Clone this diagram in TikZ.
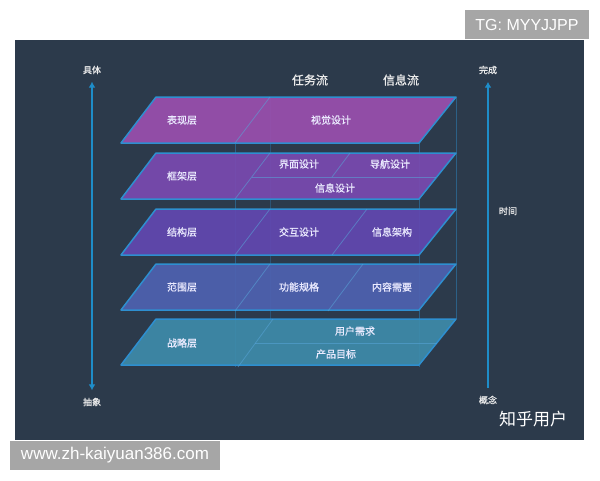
\documentclass[tikz,border=0pt]{standalone}
\usepackage{fontspec}
\setmainfont{Liberation Sans}
\newfontfamily\cjk{Noto Sans CJK SC}
\newfontfamily\cjkb[FakeBold=0.8]{Noto Sans CJK SC}
\usepackage{tikz}
\usetikzlibrary{positioning, arrows.meta}
\definecolor{bgdark}{HTML}{2C3A4B}
\definecolor{edgeblue}{HTML}{2E8FD0}
\definecolor{axisblue}{HTML}{1E8DC9}
\definecolor{layA}{HTML}{9A4FAE}
\definecolor{layB}{HTML}{7A4AB0}
\definecolor{layC}{HTML}{6248B0}
\definecolor{layD}{HTML}{4E62B0}
\definecolor{layE}{HTML}{3E8BAA}
\definecolor{markgray}{HTML}{A6A6A6}
\tikzset{layer/.style={draw=edgeblue, line width=1.5pt, line join=round}}
\tikzset{divider/.style={draw=edgeblue!80!white, line width=0.8pt, opacity=0.55}}
\tikzset{pillar/.style={draw=edgeblue, line width=0.8pt}}
\tikzset{layername/.style={text=white!92!blue, font=\cjkb\fontsize{10}{12}\selectfont}}
\tikzset{flowhead/.style={text=white!85!gray, font=\cjkb\fontsize{12}{14}\selectfont}}
\tikzset{axislabel/.style={text=white!85!gray, font=\cjkb\fontsize{9}{11}\selectfont}}
\tikzset{axis/.style={draw=axisblue, line width=1.6pt, shorten <=4pt, shorten >=4pt}}
\tikzset{stamp/.style={fill=markgray, text=white, inner sep=0pt, minimum height=29pt}}

\begin{document}
\begin{tikzpicture}[
	x=1pt,
	y=-1pt,
	>={Latex[length=6pt, width=7pt]},
	]
	\fill[white] (0,0) rectangle (600,480);
	\useasboundingbox (0,0) rectangle (600,480);
	\fill[bgdark] (15,40) rectangle (584,440);

	\foreach \x/\a/\b/\o in {235/143/367/0.45, 270/97/319/0.3, 419/143/367/0.45, 456/97/319/0.45}
		\draw[pillar, opacity=\o] (\x,\a) -- (\x,\b);

	\foreach \t/\c in {97/layA, 153/layB, 209/layC, 264/layD, 319/layE}
		\filldraw[layer, fill=\c, fill opacity=0.92] (121,\t+46) -- (419,\t+46) -- (456,\t) -- (156,\t) -- cycle;

	\draw[divider] (235,143) -- (270,97);
	\draw[divider] (235,199) -- (270,153);
	\draw[divider] (252,177) -- (436,177);
	\draw[divider] (332,177) -- (350,153);
	\draw[divider] (235,255) -- (270,209);
	\draw[divider] (332,255) -- (367,209);
	\draw[divider] (235,311) -- (270,264);
	\draw[divider] (328,311) -- (363,264);
	\draw[divider] (238,367) -- (273,319);
	\draw[divider] (255,343) -- (437,343);

	\node [layername]    (L1)   at (182,120)  {表现层};
	\node [layername]    (vis)  at (331,120)  {视觉设计};
	\node [layername]    (L2)   at (182,176)  {框架层};
	\node [layername]    (ui)   at (299,164)  {界面设计};
	\node [layername]    (nav)  at (390,164)  {导航设计};
	\node [layername]    (info) at (335,188)  {信息设计};
	\node [layername]    (L3)   at (182,232)  {结构层};
	\node [layername]    (ixd)  at (299,232)  {交互设计};
	\node [layername]    (ia)   at (392,232)  {信息架构};
	\node [layername]    (L4)   at (182,287)  {范围层};
	\node [layername]    (spec) at (299,287)  {功能规格};
	\node [layername]    (cont) at (392,287)  {内容需要};
	\node [layername]    (L5)   at (182,343)  {战略层};
	\node [layername]    (need) at (355,331)  {用户需求};
	\node [layername]    (goal) at (336,354)  {产品目标};

	\node [flowhead]     (task) at (310,80)   {任务流};
	\node [flowhead]     (flow) at (401,80)   {信息流};

	\node [axislabel]    (juti)      at (92,70)   {具体};
	\node [axislabel]    (chouxiang) at (92,402)  {抽象};
	\node [axislabel]    (wancheng)  at (488,70)  {完成};
	\node [axislabel]    (gainian)   at (488,400) {概念};
	\node [axislabel]    (time)      at (508,211) {时间};

	\draw[axis, <->] (juti) -- (chouxiang);
	\draw[axis, ->] (gainian) -- (wancheng);

	\node [text=white, font=\cjk\fontsize{17}{19}\selectfont] (zhihu) at (533,419) {知乎用户};
	\node [stamp, minimum width=124pt, font=\fontsize{16}{18}\selectfont] (tg) at (527,24.5) {TG: MYYJJPP};
	\node [stamp, minimum width=210pt, font=\fontsize{17}{19}\selectfont] (www) at (115,455) {www.zh-kaiyuan386.com};
\end{tikzpicture}
\end{document}
